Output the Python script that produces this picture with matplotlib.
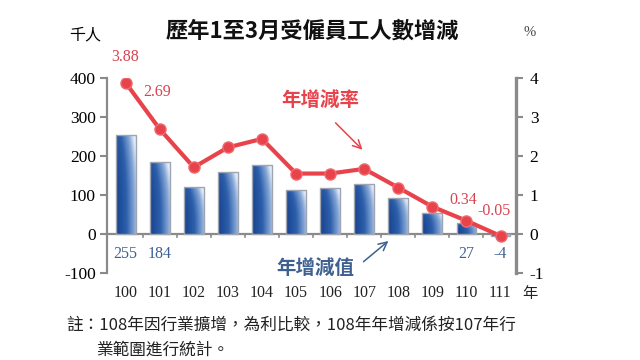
import numpy as np
import matplotlib
matplotlib.use("Agg")
import matplotlib.pyplot as plt
from matplotlib.colors import LinearSegmentedColormap
import matplotlib.transforms as mtransforms

years = ["100", "101", "102", "103", "104", "105", "106", "107", "108", "109", "110", "111"]
change_k = [255, 184, 120, 158, 177, 114, 119, 129, 92, 55, 27, -4]
rate_pct = [3.88, 2.69, 1.71, 2.22, 2.44, 1.55, 1.55, 1.67, 1.19, 0.70, 0.34, -0.05]
bar_labels = {0: "255", 1: "184", 10: "27", 11: "-4"}
rate_labels = {0: "3.88", 1: "2.69", 10: "0.34", 11: "-0.05"}

FAM = ["Liberation Serif", "Noto Sans CJK TC"]
CJK = ["Noto Sans CJK TC", "Liberation Serif"]
plt.rcParams['font.family'] = FAM
plt.rcParams['axes.unicode_minus'] = False

RED = "#e8434b"
RED_TXT = "#d9434f"
BLUE_TXT = "#3f6191"
GRAY = "#8a8a8a"

fig = plt.figure(figsize=(6.4, 3.6), dpi=100)
ax = fig.add_axes([0.167, 0.2417, 0.639, 0.5416])
ax2 = ax.twinx()

x = np.arange(len(years))
bars = ax.bar(x, change_k, width=0.58, color="none", edgecolor="#9ea5b0", linewidth=1.0, zorder=3)
cmap = LinearSegmentedColormap.from_list(
    "g", [(0, "#17428e"), (0.45, "#2d5fab"), (0.8, "#88a9d8"), (1.0, "#e6eef8")])
hh = np.linspace(0, 1, 64)[None, :]
vv = np.linspace(1, 0, 64)[:, None]
grad = np.clip(0.85 * hh + 0.25 * vv ** 3, 0, 1)
for b in bars:
    x0, y0 = b.get_x(), b.get_y()
    w, h = b.get_width(), b.get_height()
    im = ax.imshow(grad, cmap=cmap, aspect="auto", extent=[x0, x0 + w, y0, y0 + h],
                   zorder=2, interpolation="bicubic", vmin=0, vmax=1)
    im.set_clip_path(b)

ax.set_xlim(-0.55, len(years) - 0.55)
ax.set_ylim(-100, 400)
ax.set_yticks([-100, 0, 100, 200, 300, 400])
ax2.set_ylim(-1, 4)
ax2.set_yticks([-1, 0, 1, 2, 3, 4])

for a in (ax, ax2):
    a.spines['top'].set_visible(False)
    a.spines['bottom'].set_visible(False)
ax.spines['right'].set_visible(False)
ax2.spines['left'].set_visible(False)
ax.spines['left'].set_color(GRAY)
ax.spines['left'].set_linewidth(1.6)
ax2.spines['right'].set_color(GRAY)
ax2.spines['right'].set_linewidth(2.4)
ax.tick_params(axis='y', direction='out', length=5, width=1.5, color=GRAY, labelsize=12.5, pad=3)
ax2.tick_params(axis='y', direction='out', length=5, width=1.5, color=GRAY, labelsize=12.5, pad=5)

# zero line with category boundary ticks
ax.axhline(0, color=GRAY, linewidth=1.6, zorder=1)
ax.set_xticks([])
for i in range(len(years) - 1):
    ax.plot([i + 0.5, i + 0.5], [0, -8], color=GRAY, linewidth=1.2, zorder=1)

# category labels below
trans = mtransforms.blended_transform_factory(ax.transData, ax.transAxes)
for i, yl in enumerate(years):
    ax.text(i, -0.06, yl, transform=trans, ha='center', va='top', fontsize=11.5, color="#222222")
ax.text(len(years) - 0.35, -0.06, "年", transform=trans, ha='left', va='top', fontsize=11,
        family=CJK, color="#222222")

# line
ax2.plot(x, rate_pct, color=RED, linewidth=3, marker='o', markersize=8,
         markerfacecolor=RED, markeredgecolor="#f06a70", zorder=5)

rate_offsets = {0: (0, 13), 1: (-2, 21), 10: (-2, 9), 11: (-5, 12)}
for i, t in rate_labels.items():
    dx, dy = rate_offsets[i]
    ax2.annotate(t, (x[i], rate_pct[i]), xytext=(dx, dy), textcoords='offset points',
                 ha='center', va='bottom', color=RED_TXT, fontsize=11.5)

for i, t in bar_labels.items():
    ax.annotate(t, (x[i], 0), xytext=(0, -9), textcoords='offset points',
                ha='center', va='top', color=BLUE_TXT, fontsize=11.5)

# series annotations
ax.text(5.72, 343, "年增減率", ha='center', va='center',
        color=RED, fontsize=14, fontweight='bold', family=CJK)
ax.annotate("", xy=(6.95, 216), xytext=(6.16, 285),
            arrowprops=dict(arrowstyle='->,head_length=0.6,head_width=0.3', color=RED, lw=1.1,
                            shrinkA=0, shrinkB=0))
ax.text(5.57, -89, "年增減值", ha='center', va='center',
        color=BLUE_TXT, fontsize=14, fontweight='bold', family=CJK)
ax.annotate("", xy=(7.71, -18), xytext=(6.98, -71),
            arrowprops=dict(arrowstyle='->,head_length=0.6,head_width=0.3', color=BLUE_TXT, lw=1.1,
                            shrinkA=0, shrinkB=0))

# titles and units
fig.text(312 / 640, 1 - 31 / 360, "歷年1至3月受僱員工人數增減", ha='center', va='center',
         fontsize=16, fontweight='bold', family=CJK, color="#111111")
fig.text(85 / 640, 1 - 35 / 360, "千人", ha='center', va='center', fontsize=11.5, family=CJK)
fig.text(530 / 640, 1 - 33 / 360, "%", ha='center', va='center', fontsize=10.5, color="#444444")

fig.text(66 / 640, 1 - 325 / 360, "註：108年因行業擴增，為利比較，108年年增減係按107年行",
         ha='left', va='center', fontsize=12, family=CJK, color="#222222")
fig.text(96 / 640, 1 - 350 / 360, "業範圍進行統計。",
         ha='left', va='center', fontsize=12, family=CJK, color="#222222")

fig.savefig("out.png", dpi=100)
